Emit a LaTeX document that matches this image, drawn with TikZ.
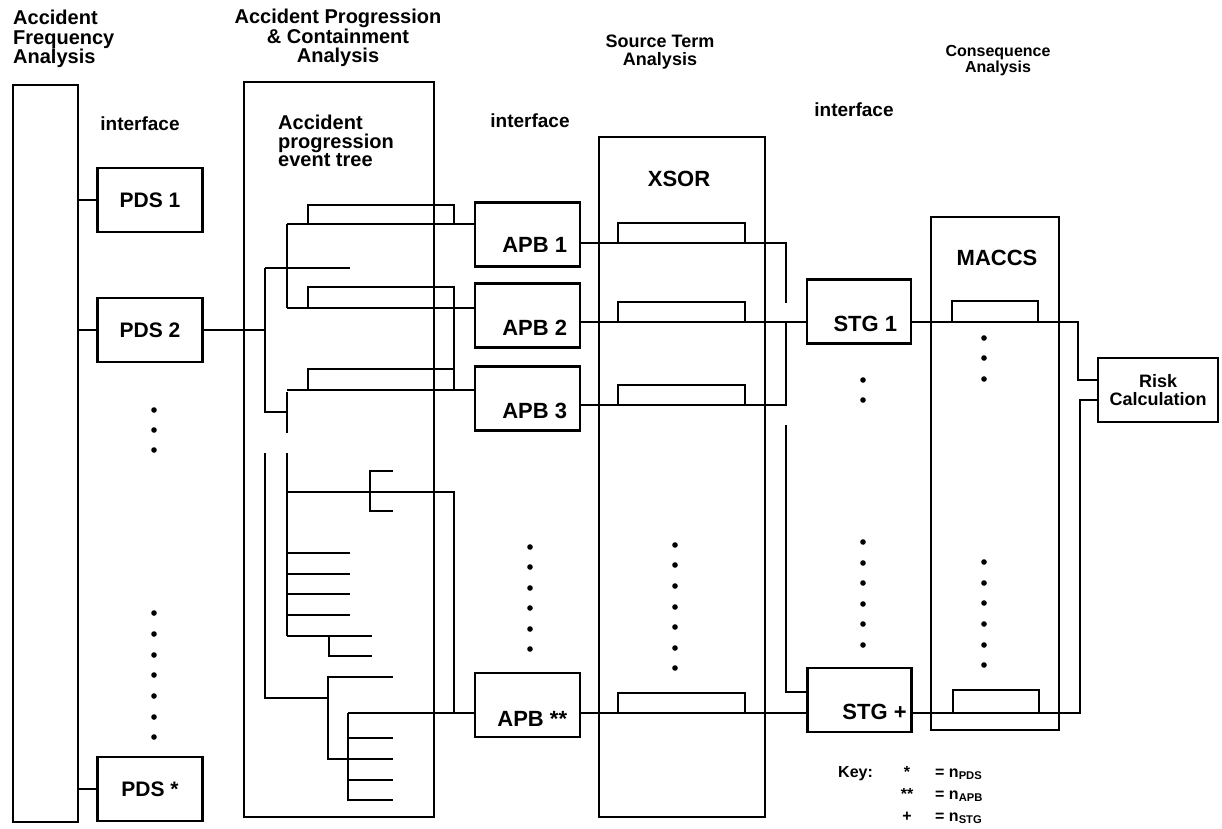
\documentclass[tikz,border=0pt]{standalone}
\usepackage{fontspec}
\setmainfont{Liberation Sans}
\usetikzlibrary{positioning,calc}

\tikzset{
  column/.style={draw,line width=2.6pt,inner sep=0pt},
  unit/.style={draw,line width=2.6pt,minimum width=105pt,minimum height=64pt,inner sep=0pt},
  tag/.style={font=\fontsize{22}{24}\selectfont\bfseries,inner sep=0pt},
  heading/.style={font=\fontsize{20}{19.5}\selectfont\bfseries,inner sep=0pt},
  iface/.style={font=\fontsize{19}{20}\selectfont\bfseries,inner sep=0pt},
  keytxt/.style={font=\fontsize{16}{17}\selectfont\bfseries,inner sep=0pt}
}

\begin{document}
\begin{tikzpicture}[x=1pt,y=-1pt,line width=2.4pt]
\useasboundingbox (0,0) rectangle (1222,828);

% column boxes
\node[column,minimum width=65pt,minimum height=737pt] (afa) at (45.5,453.5) {};
\node[column,minimum width=190pt,minimum height=735pt] (apca) at (339,449.5) {};
\node[column,minimum width=166pt,minimum height=680pt] (xsor) at (682,477) {};
\node[column,minimum width=128pt,minimum height=513pt] (maccs) at (995,473.5) {};

% headings
\node[heading,anchor=north west,align=left] (afatitle) at (12,9) {Accident\\Frequency\\Analysis};
\node[heading,anchor=north,align=center] (apcatitle) at (338,8) {Accident Progression\\\& Containment\\Analysis};
\node[heading,font=\fontsize{18}{18}\selectfont\bfseries,anchor=north,align=center] (sttitle) at (660,34) {Source Term\\Analysis};
\node[heading,font=\fontsize{16}{16.5}\selectfont\bfseries,anchor=north,align=center] (cqtitle) at (998,44) {Consequence\\Analysis};

\node[iface] (if1) at (140,124) {interface};
\node[iface] (if2) at (530,121) {interface};
\node[iface] (if3) at (854,110) {interface};

\node[heading,font=\fontsize{20}{18.5}\selectfont\bfseries,anchor=north west,align=left] (ettitle) at (277,114) {Accident\\progression\\event tree};
\node[tag] (xsort) at (679,179) {XSOR};
\node[tag] (maccst) at (997,258) {MACCS};

% plant damage states
\node[unit,tag,font=\fontsize{21}{22}\selectfont\bfseries] (pds1) at (150,200) {PDS 1};
\node[unit,tag,font=\fontsize{21}{22}\selectfont\bfseries] (pds2) at (150,330) {PDS 2};
\node[unit,tag,font=\fontsize{21}{22}\selectfont\bfseries] (pdsn) at (150,789) {PDS *};
\draw (afa.east |- pds1) -- (pds1.west);
\draw (afa.east |- pds2) -- (pds2.west);
\draw (afa.east |- pdsn) -- (pdsn.west);
\foreach \y in {410,430,450,613,634,655,675,696,717,737}
  \fill (154,\y) circle (2.8pt);

% accident progression bins
\node[unit] (apb1) at (527.5,234.5) {};
\node[unit] (apb2) at (527.5,315.5) {};
\node[unit] (apb3) at (527.5,398.5) {};
\node[unit] (apbn) at (527.5,705) {};
\node[tag,anchor=base east] (apb1t) at ($(apb1.south east)+(-13,-15)$) {APB 1};
\node[tag,anchor=base east] (apb2t) at ($(apb2.south east)+(-13,-13)$) {APB 2};
\node[tag,anchor=base east] (apb3t) at ($(apb3.south east)+(-13,-13)$) {APB 3};
\node[tag,anchor=base east] (apbnt) at ($(apbn.south east)+(-13,-12)$) {APB **};
\foreach \y in {547,567,588,608,629,649}
  \fill (530,\y) circle (2.8pt);

% event tree
\coordinate (root) at (265,330);
\draw (pds2.east) -- (root);
\draw (265,268) -- (265,412) -- (287,412);
\draw (265,268) -- (350,268);
\draw (287,392) -- (287,433);
\draw (287,224) -- (287,308);
\draw (308,224) -- (308,205) -- (454,205) -- (454,224);
\draw (287,224) -- (287,224 -| apb1.west);
\draw (287,308) -- (287,308 -| apb2.west);
\draw (308,308) -- (308,287) -- (454,287) -- (454,390);
\draw (308,390) -- (308,369) -- (454,369);
\draw (287,390) -- (287,390 -| apb3.west);
\draw (265,453) -- (265,698) -- (328,698);
\draw (287,453) -- (287,636);
\draw (287,492) -- (454,492) -- (454,713);
\draw (393,471) -- (370,471) -- (370,511) -- (393,511);
\foreach \y in {553,574,594,615}
  \draw (287,\y) -- (350,\y);
\draw (287,636) -- (372,636);
\draw (329,636) -- (329,656) -- (372,656);
\draw (393,677) -- (328,677) -- (328,759) -- (393,759);
\draw (348,713) -- (348,800) -- (393,800);
\foreach \y in {738,780}
  \draw (348,\y) -- (393,\y);
\draw (348,713) -- (348,713 -| apbn.west);

% source term groups
\node[unit,minimum width=104pt] (stg1) at (859,311.5) {};
\node[unit,minimum width=104pt] (stgn) at (859.5,700) {};
\node[tag,anchor=base east] (stg1t) at ($(stg1.south east)+(-14,-13)$) {STG 1};
\node[tag,anchor=base east] (stgnt) at ($(stgn.south east)+(-5,-14)$) {STG +};
\foreach \y in {380,400,542,563,583,604,624,645}
  \fill (863,\y) circle (2.8pt);

\draw (apb1.east |- 0,243) -- (786,243) -- (786,303);
\draw (apb2.east |- 0,322) -- (stg1.west |- 0,322);
\draw (786,322) -- (786,405) -- (apb3.east |- 0,405);
\draw (786,425) -- (786,692) -- (stgn.west |- 0,692);
\draw (apbn.east |- 0,713) -- (stgn.west |- 0,713);
\foreach \y in {243,322,405,713}
  \draw (618,\y) -- (618,\y-20) -- (745,\y-20) -- (745,\y);
\foreach \y in {545,565,586,607,627,648,668}
  \fill (675,\y) circle (2.8pt);

% consequences and risk
\node[unit,minimum width=120pt,font=\fontsize{18}{17.5}\selectfont\bfseries,align=center] (risk) at (1158,390) {Risk\\Calculation};
\draw (stg1.east |- 0,322) -- (1078,322) -- (1078,380) -- (risk.west |- 0,380);
\draw (risk.west |- 0,400) -- (1080,400) -- (1080,713) -- (stgn.east |- 0,713);
\draw (952,322) -- (952,301) -- (1038,301) -- (1038,322);
\draw (953,713) -- (953,690) -- (1039,690) -- (1039,713);
\foreach \y in {338,358,379,562,583,603,624,645,665}
  \fill (984,\y) circle (2.8pt);

% key
\node[keytxt,anchor=base west] (key) at (837,777) {Key:};
\node[keytxt,anchor=base] (k1s) at (907,777) {*};
\node[keytxt,anchor=base] (k2s) at (907,799) {**};
\node[keytxt,anchor=base] (k3s) at (907,821) {+};
\node[keytxt,anchor=base west] (k1v) at (934,777) {= n\textsubscript{PDS}};
\node[keytxt,anchor=base west] (k2v) at (934,799) {= n\textsubscript{APB}};
\node[keytxt,anchor=base west] (k3v) at (934,821) {= n\textsubscript{STG}};
\end{tikzpicture}
\end{document}
